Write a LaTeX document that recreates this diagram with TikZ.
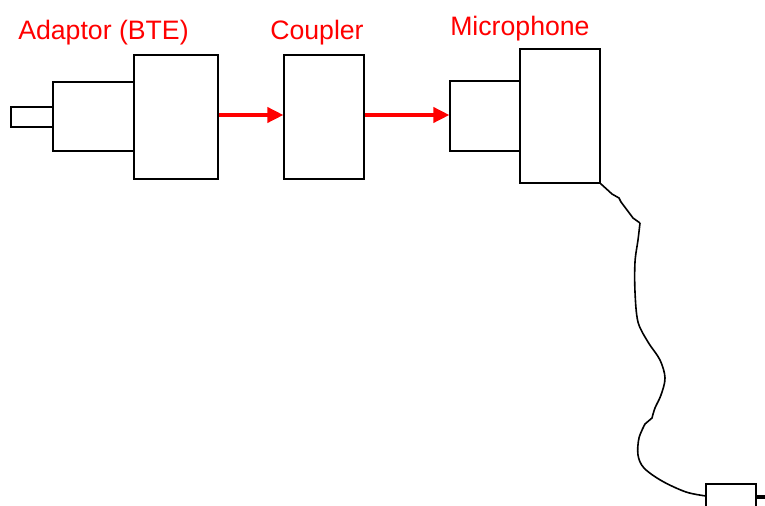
\documentclass[tikz,border=0pt]{standalone}
\usepackage{fontspec}
\setmainfont{Liberation Sans}
\usepackage{tikz}
\usetikzlibrary{arrows.meta}

\begin{document}
\begin{tikzpicture}[
  x=0.75pt,
  y=-0.75pt,
  font=\fontsize{20}{23}\selectfont,
  part/.style={draw=black, line width=1pt, fill=white, inner sep=0pt},
  label/.style={text=red, anchor=base west, inner sep=0pt},
  feed/.style={-{Triangle[length=12pt, width=11.5pt]}, line width=2.3pt, draw=red},
  cable/.style={line width=1.2pt, draw=black}
]

\clip (0,0) rectangle (765,506);

% adaptor
\node[part, minimum width=31.5pt, minimum height=15pt] (plug) at (32,117) {};
\node[part, minimum width=60.75pt, minimum height=51.75pt] (adbody) at (93.5,116.5) {};
\node[part, minimum width=63pt, minimum height=93pt] (adhead) at (176,117) {};

% coupler
\node[part, minimum width=60pt, minimum height=93pt] (coupler) at (324,117) {};

% microphone
\node[part, minimum width=52.5pt, minimum height=52.5pt] (micfront) at (485,116) {};
\node[part, minimum width=60pt, minimum height=100.5pt] (micbody) at (560,116) {};

% connector at the far end of the cable
\node[part, minimum width=37.5pt, minimum height=27pt] (plugbox) at (731,502) {};
\coordinate (edge) at (765,497);
\draw[line width=3pt] (plugbox.east |- edge) -- (edge);

\node[label] (adlabel) at (18,40) {Adaptor (BTE)};
\node[label] (couplabel) at (270,40) {Coupler};
\node[label] (miclabel) at (450,36) {Microphone};

\coordinate (row) at (0,115);
\draw[feed] (adhead.east |- row) -- (coupler.west |- row);
\draw[feed] (coupler.east |- row) -- (micfront.west |- row);

\draw[cable] (micbody.south east) -- (612,194) -- (619,198) -- (621,202)
  -- (633,218) -- (640,223)
  plot[smooth, tension=0.55] coordinates {(640,223) (638,240) (635,262) (635,292)
    (638,322) (648,342) (660,360) (665,378) (661,395) (655,408) (652,418)}
  -- (645,424)
  plot[smooth, tension=0.55] coordinates {(645,424) (639,438) (638,455) (644,468)
    (662,481) (686,492) (706,496)};

\end{tikzpicture}
\end{document}
